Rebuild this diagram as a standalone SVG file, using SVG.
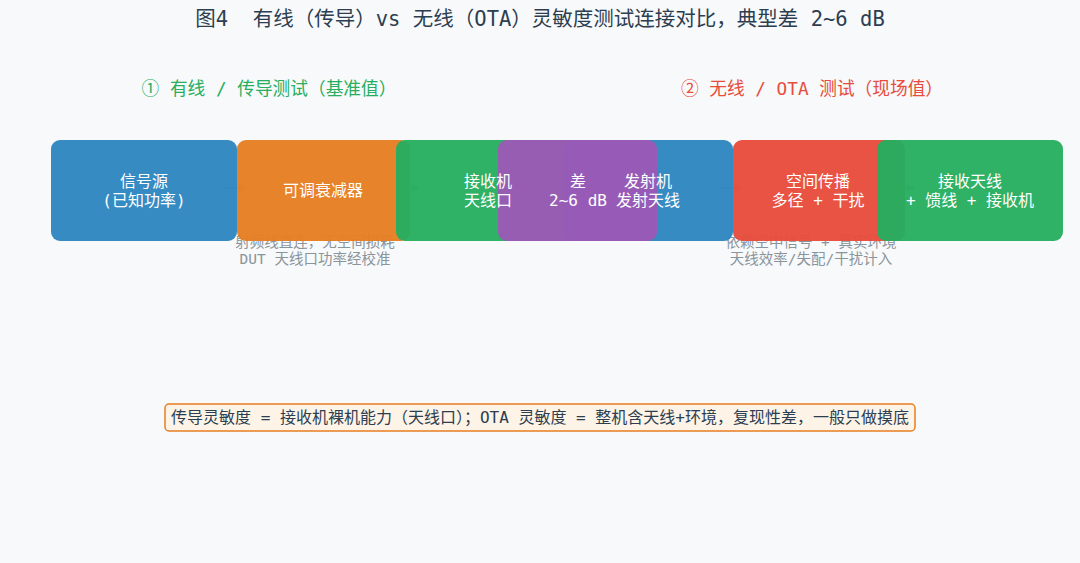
<svg xmlns="http://www.w3.org/2000/svg" width="1080" height="563" viewBox="0 0 1080 563">
<defs>
<marker id="ah" markerWidth="8" markerHeight="8" refX="7" refY="4" orient="auto" markerUnits="userSpaceOnUse">
<path d="M0,0 L8,4 L0,8 z" fill="#9aa5ad"/>
</marker>
<style>
.t{font-family:"DejaVu Sans Mono","Noto Sans CJK SC",monospace;white-space:pre}
.title{font-size:20.5px;fill:#2c3e50}
.h{font-size:17.7px}
.box{opacity:0.96}
.bt{font-family:"DejaVu Sans Mono","Noto Sans CJK SC",sans-serif;font-size:16px;fill:#ffffff;text-anchor:middle}
.cap{font-family:"DejaVu Sans Mono","Noto Sans CJK SC",monospace;font-size:14.5px;fill:#8a949b;text-anchor:middle;white-space:pre}
.conn{stroke:#9aa5ad;stroke-width:1.5;fill:none;marker-end:url(#ah)}
</style>
</defs>
<rect x="0" y="0" width="1080" height="563" fill="#f8f9fa"/>
<text class="t title" x="540" y="26" text-anchor="middle">图4  有线（传导）vs 无线（OTA）灵敏度测试连接对比，典型差 2~6 dB</text>
<text class="t h" x="269" y="95" text-anchor="middle" fill="#27ae60">① 有线 / 传导测试（基准值）</text>
<text class="t h" x="812" y="95" text-anchor="middle" fill="#e74c3c">② 无线 / OTA 测试（现场值）</text>

<g id="captions">
<text class="cap" x="315" y="247">射频线直连，无空间损耗</text>
<text class="cap" x="315" y="264">DUT 天线口功率经校准</text>
<text class="cap" x="811" y="247">依赖空中信号 + 真实环境</text>
<text class="cap" x="811" y="264">天线效率/失配/干扰计入</text>
</g>

<g id="connectors">
<line class="conn" x1="225" y1="188" x2="246" y2="188"/>
<line class="conn" x1="398" y1="188" x2="419" y2="188"/>
<line class="conn" x1="721" y1="188" x2="742" y2="188"/>
<line class="conn" x1="893" y1="188" x2="914" y2="188"/>
</g>

<g id="node-source" class="box">
<rect x="51" y="140" width="186" height="101" rx="9" fill="#2e86c1"/>
</g>
<g id="node-attenuator" class="box">
<rect x="237" y="140" width="173" height="101" rx="9" fill="#e67e22"/>
</g>
<g id="node-rx-port" class="box">
<rect x="396" y="140" width="184" height="101" rx="9" fill="#27ae60"/>
</g>
<g id="node-tx" class="box">
<rect x="563" y="140" width="170" height="101" rx="9" fill="#2e86c1"/>
</g>
<g id="node-diff" class="box">
<rect x="498" y="140" width="159" height="101" rx="9" fill="#9b59b6"/>
</g>
<g id="node-space" class="box">
<rect x="733" y="140" width="172" height="101" rx="9" fill="#e74c3c"/>
</g>
<g id="node-rx-ant" class="box">
<rect x="877" y="140" width="186" height="101" rx="9" fill="#27ae60"/>
</g>

<g id="node-labels">
<g id="label-source">
<text class="bt" x="144" y="187">信号源</text>
<text class="bt" x="144" y="206">(已知功率)</text>
</g>
<g id="label-attenuator">
<text class="bt" x="323" y="196">可调衰减器</text>
</g>
<g id="label-rx-port">
<text class="bt" x="488" y="187">接收机</text>
<text class="bt" x="488" y="206">天线口</text>
</g>
<g id="label-diff">
<text class="bt" x="578" y="187">差</text>
<text class="bt" x="578" y="206">2~6 dB</text>
</g>
<g id="label-tx">
<text class="bt" x="648" y="187">发射机</text>
<text class="bt" x="648" y="206">发射天线</text>
</g>
<g id="label-space">
<text class="bt" x="818" y="187">空间传播</text>
<text class="bt" x="818" y="206">多径 + 干扰</text>
</g>
<g id="label-rx-ant">
<text class="bt" x="970" y="187">接收天线</text>
<text class="bt" x="970" y="206">+ 馈线 + 接收机</text>
</g>
</g>

<g id="note">
<rect x="165" y="404" width="750" height="27" rx="4" fill="#fdf3e7" stroke="#e67e22" stroke-width="1.5"/>
<text class="t" x="540" y="423" text-anchor="middle" font-size="16" fill="#2c3e50">传导灵敏度 = 接收机裸机能力（天线口）；OTA 灵敏度 = 整机含天线+环境，复现性差，一般只做摸底</text>
</g>
</svg>
